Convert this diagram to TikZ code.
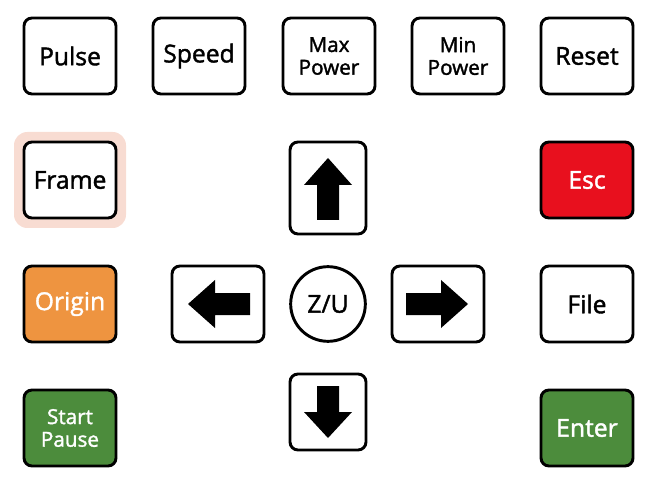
\documentclass[tikz,border=0pt]{standalone}
\usepackage{fontspec}
\setmainfont{Open Sans}
\newfontfamily\keyfont{Open Sans}[FakeBold=1.6]
\usetikzlibrary{positioning}
\definecolor{escred}{HTML}{E8101E}
\definecolor{origorange}{HTML}{EE9440}
\definecolor{okgreen}{HTML}{4C8C3C}
\definecolor{glowpink}{HTML}{F8DCD2}
\tikzstyle{every node}=[font=\keyfont\fontsize{18.5}{20}\selectfont]
\tikzstyle{key} = [rectangle, draw, line width=2.2pt, rounded corners=6pt, fill=white, text centered, minimum width=69pt, minimum height=57pt, inner sep=0pt]
\tikzstyle{small} = [font=\keyfont\fontsize{15.5}{17}\selectfont, align=center]
\tikzstyle{dir} = [key, minimum width=57pt]
\tikzstyle{tip} = [fill=black]
\begin{document}
\begin{tikzpicture}[x=0.75pt,y=-0.75pt]
    \useasboundingbox (0,0) rectangle (660,488);
    % Glow behind Frame
    \fill [glowpink, rounded corners=10pt] (14,132) rectangle (126,228);
    % Top row
    \node [key] (pulse) at (70,56) {Pulse};
    \node [key] (speed) at (199,56) {Speed};
    \node [key, small] (maxp) at (329,56) {Max\\Power};
    \node [key, small] (minp) at (458,56) {Min\\Power};
    \node [key] (reset) at (587,56) {Reset};
    % Left and right columns
    \node [key] (frame) at (70,180) {Frame};
    \node [key, fill=escred, text=white] (esc) at (587,180) {Esc};
    \node [key, fill=origorange, text=white] (origin) at (70,304) {Origin};
    \node [key] (file) at (587,304) {File};
    \node [key, small, fill=okgreen, text=white] (start) at (70,428) {Start\\Pause};
    \node [key, fill=okgreen, text=white] (enter) at (587,428) {Enter};
    % Direction pad
    \node [circle, draw, line width=2.2pt, minimum size=56pt, inner sep=0pt] (zu) at (328,304) {Z/U};
    \node [dir, minimum width=57pt, minimum height=69pt] (up) at (328,188) {};
    \node [dir, minimum width=57pt, minimum height=57pt] (down) at (328,412) {};
    \node [dir, minimum width=69pt, minimum height=57pt] (left) at (218,304) {};
    \node [dir, minimum width=69pt, minimum height=57pt] (right) at (438,304) {};
    % Arrow glyphs
    \fill [tip, shift={(up.center)}] (0,-30) -- (24,-3) -- (11,-3) -- (11,32) -- (-11,32) -- (-11,-3) -- (-24,-3) -- cycle;
    \fill [tip, shift={(down.center)}] (0,26) -- (24,0) -- (11,0) -- (11,-26) -- (-11,-26) -- (-11,0) -- (-24,0) -- cycle;
    \fill [tip, shift={(left.center)}] (-30,0) -- (-3,-24) -- (-3,-11) -- (32,-11) -- (32,11) -- (-3,11) -- (-3,24) -- cycle;
    \fill [tip, shift={(right.center)}] (30,0) -- (3,-24) -- (3,-11) -- (-32,-11) -- (-32,11) -- (3,11) -- (3,24) -- cycle;
\end{tikzpicture}
\end{document}
